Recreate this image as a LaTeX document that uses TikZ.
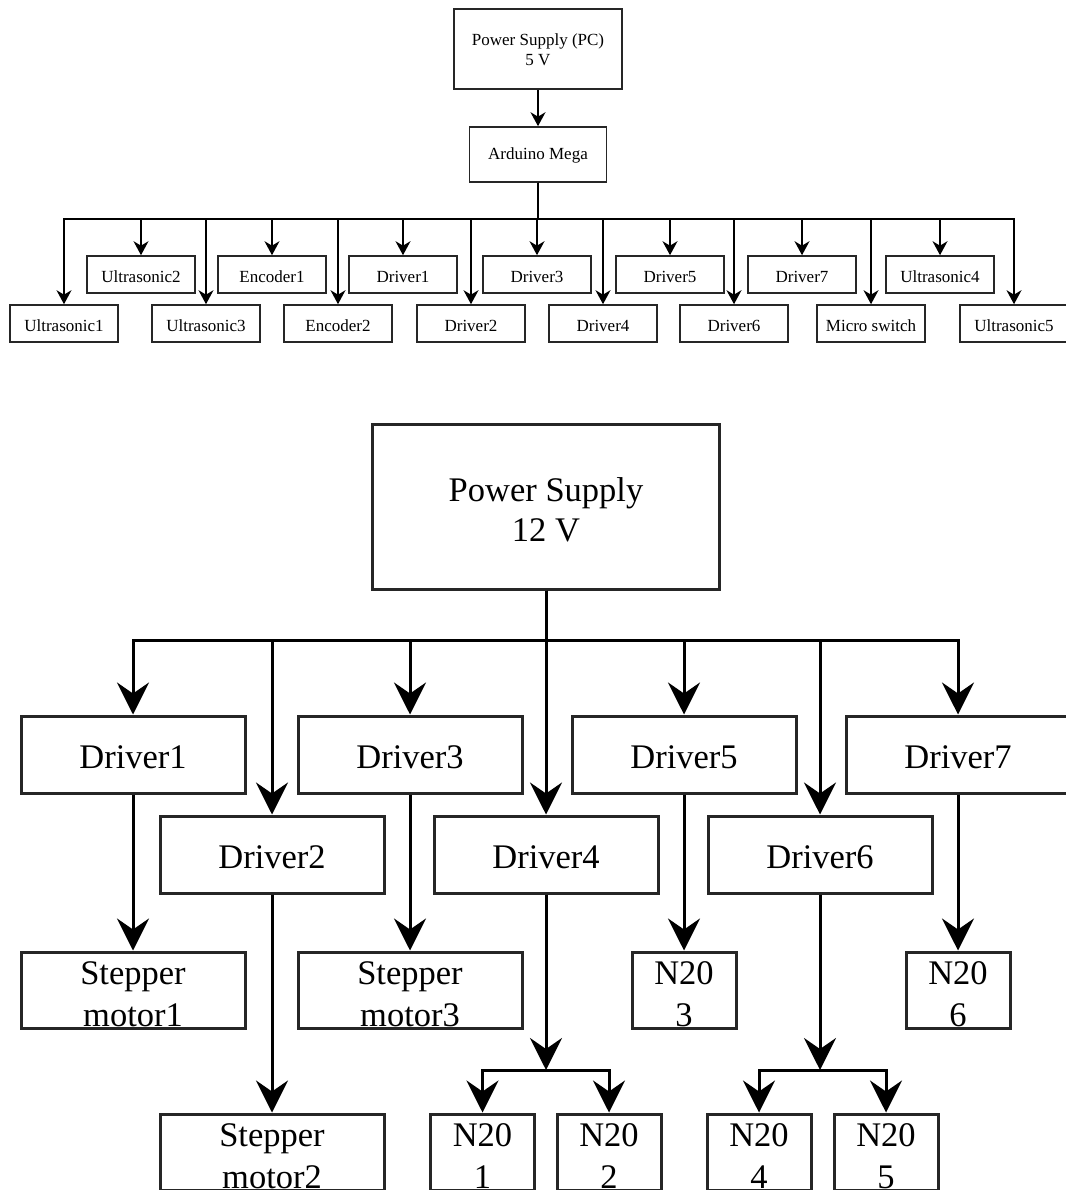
\documentclass[tikz,border=0pt]{standalone}
\usepackage{fontspec}
\setmainfont{Liberation Serif}
\usetikzlibrary{arrows.meta}
% centred lines (separated by \cr), lowered by #1 inside their box
\newcommand\boxtext[2]{\raisebox{-#1}[\height][\depth]{\vbox{\halign{\hfil##\hfil\cr#2\cr}}}}
\begin{document}
\begin{tikzpicture}[x=1pt,y=-1pt,
  smallbox/.style={draw=black!85, line width=1.6pt, inner sep=0pt,
    minimum width=108pt, minimum height=37pt,
    font=\fontsize{17}{20}\selectfont},
  bigbox/.style={draw=black!85, line width=3pt, inner sep=0pt,
    minimum width=224pt, minimum height=77pt,
    font=\fontsize{34.5}{42}\selectfont},
  narrowbox/.style={bigbox, minimum width=104pt, minimum height=76pt},
  smallwire/.style={line width=1.6pt},
  smallarrow/.style={smallwire, -{Stealth[length=14pt,width=15pt,inset=4.5pt]}},
  bigwire/.style={line width=3pt},
  bigarrow/.style={bigwire, -{Stealth[length=32pt,width=32pt,inset=11pt]}},
]
\useasboundingbox (0,0) rectangle (1065,1190);

% ---------- logic supply: 5 V from the PC ----------
\node[smallbox, minimum width=168pt, minimum height=80pt] (pspc) at (538,49) {\boxtext{1pt}{Power Supply (PC)\cr 5 V}};
\node[smallbox, minimum width=137pt, minimum height=55pt] (mega) at (538,154.5) {\boxtext{1pt}{Arduino Mega}};

% upper row of peripherals
\node[smallbox] (us2) at (141,274.5) {\boxtext{2pt}{Ultrasonic2}};
\node[smallbox] (enc1) at (272,274.5) {\boxtext{2pt}{Encoder1}};
\node[smallbox] (sd1) at (403,274.5) {\boxtext{2pt}{Driver1}};
\node[smallbox] (sd3) at (537,274.5) {\boxtext{2pt}{Driver3}};
\node[smallbox] (sd5) at (670,274.5) {\boxtext{2pt}{Driver5}};
\node[smallbox] (sd7) at (802,274.5) {\boxtext{2pt}{Driver7}};
\node[smallbox] (us4) at (940,274.5) {\boxtext{2pt}{Ultrasonic4}};
% lower row of peripherals
\node[smallbox] (us1) at (64,323.5) {\boxtext{2pt}{Ultrasonic1}};
\node[smallbox] (us3) at (206,323.5) {\boxtext{2pt}{Ultrasonic3}};
\node[smallbox] (enc2) at (338,323.5) {\boxtext{2pt}{Encoder2}};
\node[smallbox] (sd2) at (471,323.5) {\boxtext{2pt}{Driver2}};
\node[smallbox] (sd4) at (603,323.5) {\boxtext{2pt}{Driver4}};
\node[smallbox] (sd6) at (734,323.5) {\boxtext{2pt}{Driver6}};
\node[smallbox] (msw) at (871,323.5) {\boxtext{2pt}{Micro switch}};
\node[smallbox] (us5) at (1014,323.5) {\boxtext{2pt}{Ultrasonic5}};

\coordinate (hub) at (538,219);
\draw[smallarrow] (pspc) -- (mega);
\foreach \t in {us1,us2,us3,us4,us5,enc1,enc2,sd1,sd2,sd3,sd4,sd5,sd6,sd7,msw}
  \draw[smallarrow] (mega.south) -- (hub) -| (\t.north);

% ---------- motor supply: 12 V ----------
\node[bigbox, minimum width=347pt, minimum height=165pt,
  font=\fontsize{34.5}{40}\selectfont] (ps) at (546,506.5) {\boxtext{3pt}{Power Supply\cr 12 V}};

\node[bigbox] (d1) at (133,754.5) {\boxtext{3pt}{Driver1}};
\node[bigbox] (d3) at (410,754.5) {\boxtext{3pt}{Driver3}};
\node[bigbox] (d5) at (684,754.5) {\boxtext{3pt}{Driver5}};
\node[bigbox] (d7) at (958,754.5) {\boxtext{3pt}{Driver7}};
\node[bigbox] (d2) at (272,854.5) {\boxtext{3pt}{Driver2}};
\node[bigbox] (d4) at (546,854.5) {\boxtext{3pt}{Driver4}};
\node[bigbox] (d6) at (820,854.5) {\boxtext{3pt}{Driver6}};

\coordinate (bus) at (546,640);
\foreach \t in {d1,d2,d3,d4,d5,d6,d7}
  \draw[bigarrow] (ps.south) -- (bus) -| (\t.north);

% motors
\node[bigbox, minimum height=76pt] (sm1) at (133,990) {\boxtext{4.5pt}{Stepper\cr motor1}};
\node[bigbox, minimum height=76pt] (sm3) at (410,990) {\boxtext{4.5pt}{Stepper\cr motor3}};
\node[narrowbox] (n3) at (684,990) {\boxtext{4.5pt}{N20\cr 3}};
\node[narrowbox] (n6) at (958,990) {\boxtext{4.5pt}{N20\cr 6}};
\node[bigbox, minimum height=76pt] (sm2) at (272,1152) {\boxtext{4.5pt}{Stepper\cr motor2}};
\node[narrowbox] (n1) at (482.5,1152) {\boxtext{4.5pt}{N20\cr 1}};
\node[narrowbox] (n2) at (609,1152) {\boxtext{4.5pt}{N20\cr 2}};
\node[narrowbox] (n4) at (759,1152) {\boxtext{4.5pt}{N20\cr 4}};
\node[narrowbox] (n5) at (886,1152) {\boxtext{4.5pt}{N20\cr 5}};

\draw[bigarrow] (d1) -- (sm1);
\draw[bigarrow] (d3) -- (sm3);
\draw[bigarrow] (d5) -- (n3);
\draw[bigarrow] (d7) -- (n6);
\draw[bigarrow] (d2) -- (sm2);

\coordinate (j4) at (546,1070);
\coordinate (j6) at (820,1070);
\draw[bigarrow] (d4) -- (j4);
\draw[bigarrow] (j4) -| (n1.north);
\draw[bigarrow] (j4) -| (n2.north);
\draw[bigarrow] (d6) -- (j6);
\draw[bigarrow] (j6) -| (n4.north);
\draw[bigarrow] (j6) -| (n5.north);
\end{tikzpicture}
\end{document}
